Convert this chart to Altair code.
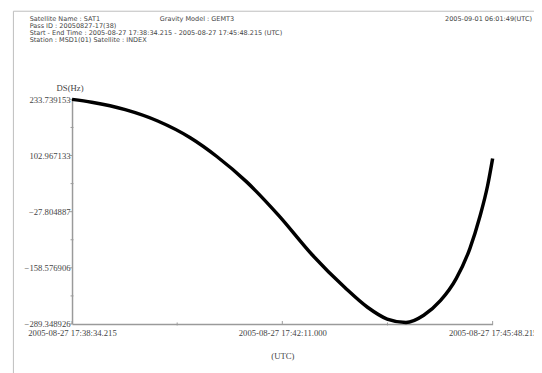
import altair as alt
import pandas as pd

# ---- data ----
t_sec = [0, 20.3, 54.9, 88.4, 122.0, 149.4, 179.9, 213.4, 248.0, 281.5, 304.9, 325.2,
         344.6, 362.9, 380.1, 396.4, 410.6, 420.8, 428.9, 434.0]
ds_hz = [233.7, 226.9, 209.7, 183.3, 144.3, 100.7, 42.2, -37.0, -128.8, -204.5, -250.4, -277.9,
         -285.9, -268.9, -235.2, -183.8, -113.1, -39.7, 33.7, 96.1]

x_major = [0, 217, 434]
x_minor = [108.5, 325.5]
x_labels = ["2005-08-27 17:38:34.215", "2005-08-27 17:42:11.000", "2005-08-27 17:45:48.215"]
y_major = [-289.348926, -158.576906, -27.804887, 102.967133, 233.739153]
y_minor = [-223.962916, -93.190897, 37.581123, 168.353143]

header = [
    "Satellite Name : SAT1",
    "Pass ID              : 20050827-17(38)",
    "Start - End Time : 2005-08-27 17:38:34.215 - 2005-08-27 17:45:48.215 (UTC)",
    "Station : MSD1(01)   Satellite : INDEX",
]
header_right = "2005-09-01 06:01:49(UTC)"
gravity = "Gravity Model : GEMT3"

W, H = 427, 228
AX = "#9a9a9a"
LBL = "#444444"
SERIF = "Liberation Serif"
SANS = "DejaVu Sans"

df = pd.DataFrame({"t": t_sec, "v": ds_hz})
xs = alt.Scale(domain=[0, 434], nice=False, zero=False)
ys = alt.Scale(domain=[y_major[0], y_major[-1]], nice=False, zero=False)

label_expr = ("datum.value == 0 ? '%s' : datum.value == 217 ? '%s' : '%s'"
              % (x_labels[0], x_labels[1], x_labels[2]))

curve = alt.Chart(df).mark_line(color="black", strokeWidth=3.5, interpolate="monotone").encode(
    x=alt.X("t:Q", scale=xs, axis=alt.Axis(values=x_major, labelExpr=label_expr, title=None,
                                             ticks=False, grid=False, domainColor=AX, domainWidth=1.5,
                                             labelFont=SERIF, labelFontSize=8.8, labelColor=LBL,
                                             labelPadding=5, labelFlush=False, labelOverlap=False)),
    y=alt.Y("v:Q", scale=ys, axis=alt.Axis(values=y_major, format=".6f", title=None,
                                             ticks=False, grid=False, domainColor=AX, domainWidth=1.5,
                                             labelFont=SERIF, labelFontSize=8.8, labelColor=LBL,
                                             labelPadding=2, labelFlush=False, labelOverlap=False)),
)

one = pd.DataFrame({"a": [0]})

y_ticks_major = alt.Chart(pd.DataFrame({"v": y_major})).mark_rule(color=AX, strokeWidth=1).encode(
    y=alt.Y("v:Q", scale=ys), x=alt.value(-3), x2=alt.value(0))
y_ticks_minor = alt.Chart(pd.DataFrame({"v": y_minor})).mark_rule(color=AX, strokeWidth=1).encode(
    y=alt.Y("v:Q", scale=ys), x=alt.value(-1.5), x2=alt.value(1.5))
x_ticks_major = alt.Chart(pd.DataFrame({"t": x_major})).mark_rule(color=AX, strokeWidth=1).encode(
    x=alt.X("t:Q", scale=xs), y=alt.value(H - 3), y2=alt.value(H))
x_ticks_minor = alt.Chart(pd.DataFrame({"t": x_minor})).mark_rule(color=AX, strokeWidth=1).encode(
    x=alt.X("t:Q", scale=xs), y=alt.value(H - 1.5), y2=alt.value(H + 1.5))

frame = alt.Chart(one).mark_rect(fill=None, stroke="#bdbdbd", strokeWidth=1).encode(
    x=alt.value(-59.5), x2=alt.value(520), y=alt.value(-89.5), y2=alt.value(320))

texts = []
hy = [-81.3, -74.2, -67.1, -60.0]
for line, yy in zip(header, hy):
    texts.append(alt.Chart(one).mark_text(font=SANS, fontSize=6.6, color=LBL, align="left",
                                          baseline="middle").encode(
        x=alt.value(-43), y=alt.value(yy), text=alt.value(line)))
texts.append(alt.Chart(one).mark_text(font=SANS, fontSize=6.6, color=LBL, align="left",
                                      baseline="middle").encode(
    x=alt.value(89), y=alt.value(hy[0]), text=alt.value(gravity)))
texts.append(alt.Chart(one).mark_text(font=SANS, fontSize=6.6, color=LBL, align="right",
                                      baseline="middle").encode(
    x=alt.value(467), y=alt.value(hy[0]), text=alt.value(header_right)))
texts.append(alt.Chart(one).mark_text(font=SERIF, fontSize=8.8, color=LBL, align="center",
                                      baseline="middle").encode(
    x=alt.value(-2), y=alt.value(-12), text=alt.value("DS(Hz)")))
texts.append(alt.Chart(one).mark_text(font=SERIF, fontSize=8.8, color=LBL, align="center",
                                      baseline="middle").encode(
    x=alt.value(214), y=alt.value(261), text=alt.value("(UTC)")))

chart = alt.layer(frame, y_ticks_major, y_ticks_minor, x_ticks_major, x_ticks_minor, curve, *texts).properties(
    width=W, height=H,
    autosize=alt.AutoSizeParams(type="none"),
    padding={"left": 65, "top": 90, "right": 42, "bottom": 47},
    background="white",
).configure_view(stroke=None)

chart.save("out.html", embed_options={"renderer": "svg", "actions": False})
